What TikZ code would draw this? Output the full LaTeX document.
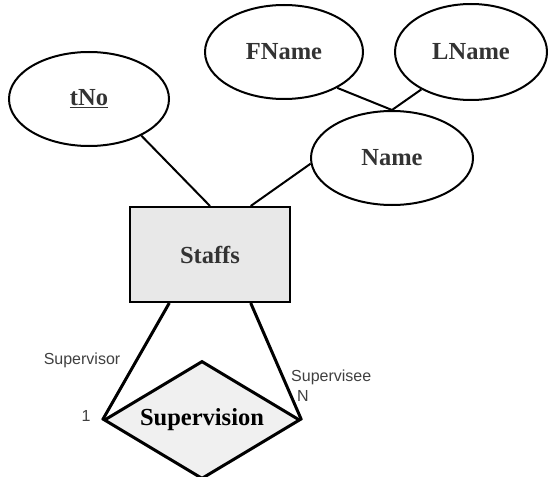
\documentclass[tikz,border=0pt]{standalone}
\usepackage{fontspec}
\setmainfont{Liberation Serif}
\setsansfont{Liberation Sans}
\usetikzlibrary{shapes.geometric}
\definecolor{txt}{HTML}{333333}
\definecolor{lbl}{HTML}{404040}
\definecolor{boxfill}{HTML}{E8E8E8}
\definecolor{dfill}{HTML}{F0F0F0}
\begin{document}
\begin{tikzpicture}[x=1pt,y=-1pt,
  attr/.style={ellipse,draw=black,line width=2pt,fill=white,inner sep=0pt,
    text=txt,font=\fontsize{24.5}{26}\selectfont\bfseries},
  ent/.style={rectangle,draw=black,line width=2pt,fill=boxfill,inner sep=0pt,
    minimum width=160pt,minimum height=95pt,text=txt,font=\fontsize{24.5}{26}\selectfont\bfseries},
  rel/.style={diamond,draw=black,line width=3pt,fill=dfill,inner sep=0pt,aspect=1.66,
    minimum width=196pt,minimum height=118pt,text=black,font=\fontsize{24.5}{26}\selectfont\bfseries},
  link/.style={line width=2pt},
  rlink/.style={line width=3pt},
  lab/.style={font=\sffamily\fontsize{16}{18}\selectfont,text=lbl,inner sep=0pt}]
\useasboundingbox (0,0) rectangle (548,476);
\node[attr,minimum width=160pt,minimum height=94pt] (tNo) at (89,99) {\underline{tNo}};
\node[attr,minimum width=158pt,minimum height=94pt] (FName) at (284,52) {FName};
\node[attr,minimum width=152pt,minimum height=96pt] (LName) at (471,52) {LName};
\node[attr,minimum width=162pt,minimum height=94pt] (Name) at (392,158) {Name};
\node[ent] (Staffs) at (210,254.5) {Staffs};
\node[rel] (Sup) at (202,420) {Supervision};
\draw[link] (tNo.-35) -- (Staffs.north);
\draw[link] (Name.184) -- (Staffs.50);
\draw[link] (FName.-34) -- (Name.north);
\draw[link] (LName.217) -- (Name.north);
\draw[rlink] (Staffs.-130) -- (Sup.west);
\draw[rlink] (Staffs.-50) -- (Sup.east);
\node[lab] (l1) at (82,360) {Supervisor};
\node[lab] (l2) at (86,416) {1};
\node[lab,anchor=west] (l3) at (291,377) {Supervisee};
\node[lab] (l4) at (303,396) {N};
\end{tikzpicture}
\end{document}
